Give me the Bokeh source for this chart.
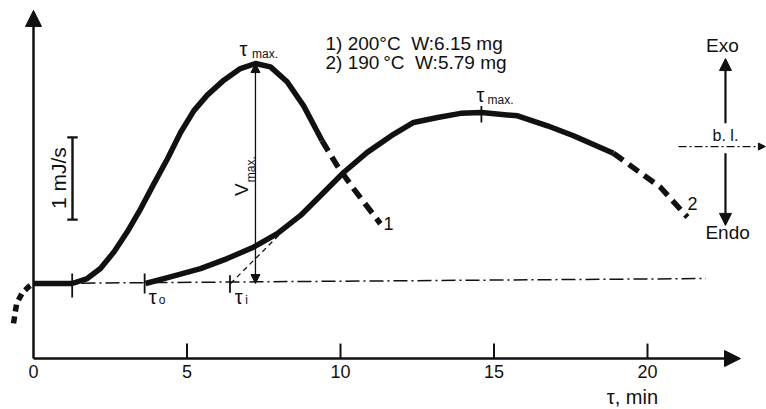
from bokeh.plotting import figure
from bokeh.models import Range1d, Arrow, NormalHead
from bokeh.core.properties import value
from bokeh.embed import file_html
from bokeh.resources import INLINE
import math

# ---------------- data (time in min, heat flow in mJ/s relative to baseline) -------------
# curve 1 (200 °C)
c1_start_x = [-0.65, -0.55, -0.36, -0.16, 0.0]
c1_start_y = [-0.48, -0.24, -0.11, -0.04, 0.0]
c1_x = [0.0, 1.26, 1.75, 2.18, 2.62, 3.05, 3.49, 3.92, 4.36, 4.79, 5.22, 5.66, 6.20, 6.74,
        7.23, 7.72, 8.26, 8.80, 9.40]
c1_y = [0.0, 0.0, 0.06, 0.18, 0.38, 0.62, 0.90, 1.20, 1.50, 1.82, 2.08, 2.27, 2.45, 2.59,
        2.65, 2.61, 2.43, 2.14, 1.72]
c1_tail_x = [9.40, 9.89, 10.43, 11.30]
c1_tail_y = [1.72, 1.42, 1.14, 0.72]
# curve 2 (190 °C)
c2_x = [3.65, 4.46, 5.44, 6.31, 7.18, 7.94, 8.70, 9.46, 10.11, 10.87, 11.74, 12.38, 13.16,
        13.91, 14.59, 15.77, 16.74, 17.59, 18.89]
c2_y = [0.0, 0.08, 0.18, 0.30, 0.44, 0.60, 0.82, 1.10, 1.34, 1.58, 1.80, 1.94, 2.00,
        2.05, 2.06, 2.02, 1.90, 1.78, 1.57]
c2_tail_x = [18.89, 19.67, 20.42, 21.30]
c2_tail_y = [1.57, 1.36, 1.16, 0.80]
# baseline
bl_x = [0.0, 21.9]
bl_y = [0.0, 0.06]
# tangent from tau_i
tan_x = [6.42, 8.15]
tan_y = [0.0, 0.64]
# marker ticks on curves (start of curve 1, tau_0, tau_i, tau_max of curve 2)
mk_x = [1.26, 3.62, 6.40, 14.59]
mk_y0 = [-0.17, -0.12, -0.11, 1.94]
mk_y1 = [0.12, 0.12, 0.10, 2.14]
# v_max
vmax_x = 7.23
vmax_y = [0.0, 2.65]
# scale bar 1 mJ/s
bar_x = 1.27
bar_y = [0.77, 1.76]
# axis
x_ticks = [5, 10, 15, 20]
x_tick_labels = ["0", "5", "10", "15", "20"]
x_tick_label_pos = [0, 5, 10, 15, 20]
x_axis_y = -0.904
x_axis_end = 23.03
y_axis_top = 3.29
legend_lines = ["1) 200°C \u00a0W:6.15 mg", "2) 190\u2009°C \u00a0W:5.79 mg"]

FONT = value("Liberation Sans")
BLACK = "#111111"

p = figure(width=766, height=409,
           x_range=Range1d(-33 / 30.7, 733 / 30.7),
           y_range=Range1d(-126 / 83, 283 / 83),
           output_backend="svg", toolbar_location=None,
           x_axis_location=None, y_axis_location=None, min_border=0)
p.grid.visible = False
p.outline_line_color = None
p.background_fill_color = "white"
p.border_fill_color = "white"

# axes
p.add_layout(Arrow(end=NormalHead(size=16, fill_color=BLACK, line_color=BLACK),
                   x_start=0, y_start=x_axis_y, x_end=x_axis_end, y_end=x_axis_y,
                   line_width=2.5, line_color=BLACK))
p.add_layout(Arrow(end=NormalHead(size=16, fill_color=BLACK, line_color=BLACK),
                   x_start=0, y_start=x_axis_y, x_end=0, y_end=y_axis_top,
                   line_width=2.5, line_color=BLACK))
p.segment(x0=x_ticks, x1=x_ticks, y0=[x_axis_y] * 4, y1=[x_axis_y + 0.18] * 4,
          line_width=2, line_color=BLACK)
p.text(x=x_tick_label_pos, y=[-1.06] * 5, text=x_tick_labels, text_font=FONT,
       text_font_size="18px", text_align="center", text_baseline="middle", text_color=BLACK)
p.text(x=[19.51], y=[-1.37], text=["τ, min"], text_font=FONT, text_font_size="20px",
       text_align="center", text_baseline="middle", text_color=BLACK)

# baseline (dash-dot)
p.line(bl_x, bl_y, line_width=1.5, line_color=BLACK, line_dash="14 4 2 4")
# tangent
p.line(tan_x, tan_y, line_width=1.3, line_color=BLACK, line_dash="5 4")

# curves
p.line(c1_start_x, c1_start_y, line_width=5.5, line_color=BLACK, line_dash="7 5")
p.line(c1_x, c1_y, line_width=5.5, line_color=BLACK, line_join="round")
p.line(c1_tail_x, c1_tail_y, line_width=5.5, line_color=BLACK, line_dash="12 7")
p.line(c2_x, c2_y, line_width=5.5, line_color=BLACK, line_join="round")
p.line(c2_tail_x, c2_tail_y, line_width=5.5, line_color=BLACK, line_dash="12 7")

# markers
p.segment(x0=mk_x, x1=mk_x, y0=mk_y0, y1=mk_y1, line_width=1.8, line_color=BLACK)

# v_max double arrow
p.add_layout(Arrow(start=NormalHead(size=9, fill_color=BLACK, line_color=BLACK),
                   end=NormalHead(size=9, fill_color=BLACK, line_color=BLACK),
                   x_start=vmax_x, y_start=vmax_y[0], x_end=vmax_x, y_end=vmax_y[1],
                   line_width=1.3, line_color=BLACK))

# scale bar
p.segment(x0=[bar_x], x1=[bar_x], y0=[bar_y[0]], y1=[bar_y[1]], line_width=2.4, line_color=BLACK)
p.segment(x0=[bar_x - 0.17] * 2, x1=[bar_x + 0.17] * 2, y0=bar_y, y1=bar_y,
          line_width=2.4, line_color=BLACK)
p.text(x=[0.81], y=[1.27], text=["1 mJ/s"], angle=math.pi / 2, text_font=FONT,
       text_font_size="21px", text_align="center", text_baseline="middle", text_color=BLACK)

# tau labels
p.text(x=[6.84, 14.56, 3.88, 6.68], y=[2.83, 2.27, -0.157, -0.157], text=["τ", "τ", "τ", "τ"],
       text_font=FONT, text_font_size="20px", text_align="center", text_baseline="middle",
       text_color=BLACK)
p.text(x=[7.12, 14.79, 4.08, 6.90], y=[2.77, 2.21, -0.20, -0.20],
       text=["max.", "max.", "o", "i"], text_font=FONT, text_font_size="12px",
       text_align="left", text_baseline="middle", text_color=BLACK)

# v_max label (rotated)
p.text(x=[6.78], y=[1.13], text=["V"], angle=math.pi / 2, text_font=FONT,
       text_font_size="19px", text_align="center", text_baseline="middle", text_color=BLACK)
p.text(x=[7.07], y=[1.22], text=["max."], angle=math.pi / 2, text_font=FONT,
       text_font_size="12px", text_align="left", text_baseline="middle", text_color=BLACK)

# curve labels
p.text(x=[11.56, 21.47], y=[0.72, 0.96], text=["1", "2"], text_font=FONT,
       text_font_size="18px", text_align="center", text_baseline="middle", text_color=BLACK)

# legend text
p.text(x=[9.51, 9.51], y=[2.89, 2.66], text=legend_lines, text_font=FONT,
       text_font_size="19px", text_align="left", text_baseline="middle", text_color=BLACK)

# Exo / Endo indicator
p.add_layout(Arrow(end=NormalHead(size=12, fill_color=BLACK, line_color=BLACK),
                   x_start=22.54, y_start=1.93, x_end=22.54, y_end=2.71,
                   line_width=2.2, line_color=BLACK))
p.add_layout(Arrow(end=NormalHead(size=12, fill_color=BLACK, line_color=BLACK),
                   x_start=22.54, y_start=1.57, x_end=22.54, y_end=0.70,
                   line_width=2.2, line_color=BLACK))
p.add_layout(Arrow(end=NormalHead(size=7, fill_color=BLACK, line_color=BLACK),
                   x_start=21.01, y_start=1.65, x_end=23.84, y_end=1.65,
                   line_width=1.2, line_color=BLACK, line_dash="8 3 2 3"))
p.text(x=[22.44, 22.61], y=[2.87, 0.61], text=["Exo", "Endo"],
       text_font=FONT, text_font_size="19px", text_align="center", text_baseline="middle",
       text_color=BLACK)
p.text(x=[22.54], y=[1.78], text=["b. l."],
       text_font=FONT, text_font_size="16px", text_align="center", text_baseline="middle",
       text_color=BLACK)

open("out.html", "w").write(file_html(p, INLINE))
